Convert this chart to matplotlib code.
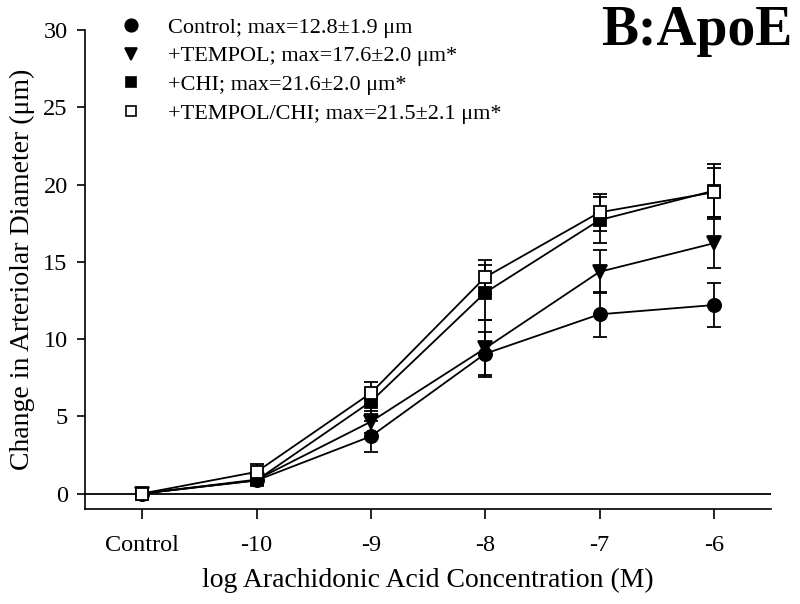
import matplotlib.pyplot as plt
from matplotlib.lines import Line2D

plt.rcParams['font.family'] = ['Liberation Serif', 'DejaVu Serif']

# x categories (Control, then log concentrations)
doses = ['Control', '-10', '-9', '-8', '-7', '-6']

control = [0.0, 0.85, 3.7, 9.05, 11.6, 12.2]
control_se = [0.3, 0.3, 1.0, 1.4, 1.45, 1.4]
tempol = [0.0, 0.9, 4.65, 9.4, 14.35, 16.2]
tempol_se = [0.2, 0.3, 0.7, 1.85, 1.4, 1.6]
chi = [0.0, 0.85, 5.95, 13.0, 17.7, 19.6]
chi_se = [0.2, 0.3, 0.8, 1.8, 1.5, 1.7]
tempol_chi = [0.0, 1.4, 6.5, 14.0, 18.2, 19.5]
tempol_chi_se = [0.2, 0.5, 0.75, 1.1, 1.2, 1.6]

labels = ['Control; max=12.8\u00b11.9 \u03bcm',
          '+TEMPOL; max=17.6\u00b12.0 \u03bcm*',
          '+CHI; max=21.6\u00b12.0 \u03bcm*',
          '+TEMPOL/CHI; max=21.5\u00b12.1 \u03bcm*']

fig = plt.figure(figsize=(8, 6.04), dpi=100)
ax = fig.add_axes([0.10625, 0.1573, 0.8575, 0.793])

x = list(range(len(doses)))
series = [
    (control, control_se, 'o', 'black', 9.5),
    (tempol, tempol_se, 'v', 'black', 9.5),
    (chi, chi_se, 's', 'black', 8),
    (tempol_chi, tempol_chi_se, 's', 'white', 8),
]

ax.axhline(0, color='black', lw=1.3, zorder=1)

handles = []
for i, (vals, se, mk, fc, ms) in enumerate(series):
    ax.errorbar(x, vals, yerr=se, fmt='none', ecolor='black', elinewidth=1.3,
                capsize=4.7, capthick=1.3, zorder=2 + i)
    ax.plot(x, vals, color='black', lw=1.3, marker=mk, markersize=ms,
            markerfacecolor=fc, markeredgecolor='black', markeredgewidth=1.3,
            zorder=2 + i)
    handles.append(Line2D([], [], linestyle='none', marker=mk, markersize=ms * 0.95,
                          markerfacecolor=fc, markeredgecolor='black',
                          markeredgewidth=1.2))

ax.set_xlim(-0.5, 5.5)
ax.set_ylim(-1, 30)
ax.set_xticks(x)
ax.set_xticklabels(doses)
ax.set_yticks([0, 5, 10, 15, 20, 25, 30])

for s in ['top', 'right']:
    ax.spines[s].set_visible(False)
for s in ['left', 'bottom']:
    ax.spines[s].set_linewidth(1.2)

ax.tick_params(axis='x', direction='out', length=7, width=1.2, labelsize=17.5, pad=12)
ax.tick_params(axis='y', direction='out', length=5.5, width=1.2, labelsize=17.5, pad=7)

ax.set_xlabel('log Arachidonic Acid Concentration (M)', fontsize=20, labelpad=8)
ax.set_ylabel('Change in Arteriolar Diameter (\u03bcm)', fontsize=20, labelpad=6)

ax.legend(handles, labels, loc='upper left', bbox_to_anchor=(0.13, 0.997),
          bbox_transform=fig.transFigure, frameon=False, fontsize=16,
          handlelength=1.0, handletextpad=1.2, labelspacing=0.36,
          borderaxespad=0.3)

fig.text(0.99, 0.925, 'B:ApoE', fontsize=40, fontweight='bold',
         ha='right', va='baseline')

fig.savefig('out.png', dpi=100)
